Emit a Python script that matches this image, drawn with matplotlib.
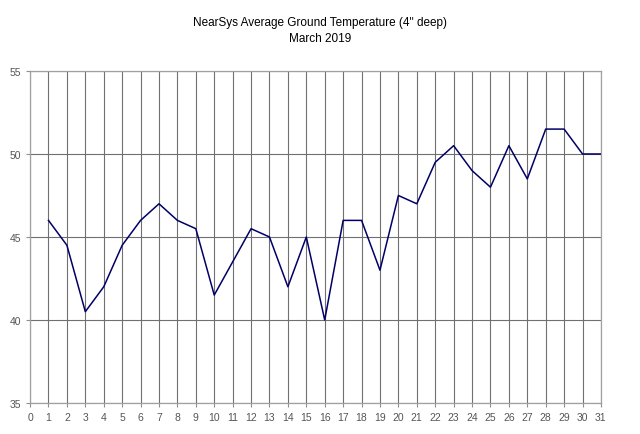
import numpy as np
import matplotlib.pyplot as plt

plt.rcParams['font.family'] = ['Liberation Sans', 'DejaVu Sans']

days = list(range(1, 32))
temps = [46, 44.5, 40.5, 42, 44.5, 46, 47, 46, 45.5, 41.5,
         43.5, 45.5, 45, 42, 45, 40, 46, 46, 43, 47.5,
         47, 49.5, 50.5, 49, 48, 50.5, 48.5, 51.5, 51.5, 50, 50]
x_ticks = list(range(0, 32))
y_ticks = [35, 40, 45, 50, 55]

fig = plt.figure(figsize=(6.4, 4.35), dpi=100)
ax = fig.add_axes([0.047, 0.0713, 0.892, 0.7632])

ax.plot(days, temps, color='#000066', linewidth=1.1, zorder=3)

ax.set_xlim(0, 31)
ax.set_ylim(35, 55)
ax.set_xticks(x_ticks)
ax.set_yticks(y_ticks)
ax.grid(True, axis='both', color='#707070', linewidth=0.8)

for s in ax.spines.values():
    s.set_color('#a0a0a0')
    s.set_linewidth(0.9)
ax.tick_params(axis='both', colors='#909090', labelcolor='#555555', labelsize=7.5, length=3, width=0.8)

fig.text(0.5, 0.928, "NearSys Average Ground Temperature (4'' deep)\nMarch 2019",
         ha='center', va='center', fontsize=8.5, linespacing=1.45)

plt.savefig('out.png', dpi=100)
